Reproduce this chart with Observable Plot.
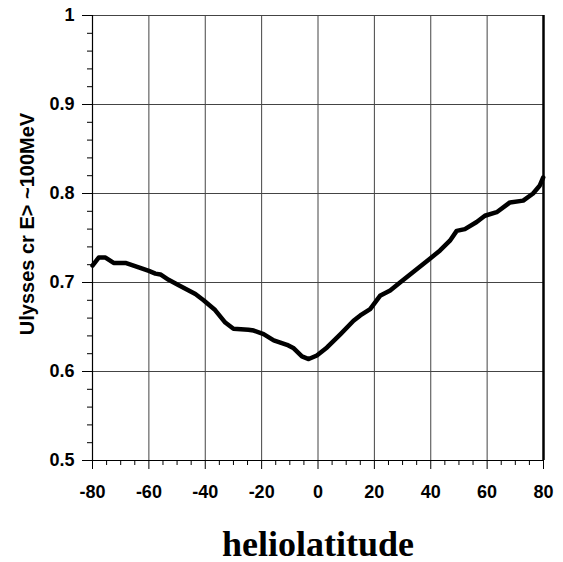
<!DOCTYPE html>
<html>
<head>
<meta charset="utf-8">
<script src="https://cdn.jsdelivr.net/npm/d3@7"></script>
<script src="https://cdn.jsdelivr.net/npm/@observablehq/plot@0.6"></script>
<style>
  html, body { margin: 0; padding: 0; background: #fff; }
  #chart svg { font-family: "Liberation Sans", Arial, sans-serif; }
</style>
</head>
<body>
<div id="chart"></div>
<script>
// Heliolatitude (deg) and Ulysses cosmic-ray rate E > ~100 MeV
const latitude = [-80, -77.8, -75.4, -72.5, -68.3, -63.6, -60, -57.7, -55.9, -53, -49.4, -43.5, -40.6, -36.5, -32.9, -30, -24.7, -22.8, -19.3, -15.7, -11, -8.6, -5.7, -3.3, -0.4, 3.2, 8, 12.6, 15, 18.5, 22, 25.6, 29.1, 39.8, 43.3, 46.8, 49.2, 52.1, 56.3, 59.2, 63.4, 68.1, 72.8, 76.3, 78.7, 79.9];
const rate = [0.719, 0.728, 0.728, 0.722, 0.722, 0.717, 0.713, 0.710, 0.709, 0.703, 0.697, 0.687, 0.680, 0.669, 0.655, 0.648, 0.647, 0.646, 0.642, 0.635, 0.630, 0.626, 0.617, 0.614, 0.618, 0.627, 0.642, 0.657, 0.663, 0.670, 0.685, 0.691, 0.700, 0.727, 0.736, 0.747, 0.758, 0.760, 0.768, 0.775, 0.779, 0.790, 0.792, 0.800, 0.809, 0.818];

const xMajor = [-80, -60, -40, -20, 0, 20, 40, 60, 80];
const xMinor = d3.range(-80, 81, 5).filter(v => v % 20 !== 0);
const yMajor = [0.5, 0.6, 0.7, 0.8, 0.9, 1];
const yMinor = d3.range(0, 26).map(i => +(0.5 + i * 0.02).toFixed(2)).filter(v => Math.round(v * 100) % 10 !== 0);

const yLabel = "Ulysses cr E> ~100MeV";
const xLabel = "heliolatitude";

const data = latitude.map((x, i) => ({x, y: rate[i]}));

const chart = Plot.plot({
  width: 563,
  height: 562,
  marginTop: 15,
  marginLeft: 92,
  marginRight: 20,
  marginBottom: 102,
  x: {domain: [-80, 80]},
  y: {domain: [0.5, 1]},
  marks: [
    Plot.ruleX(xMajor, {stroke: "#444", strokeWidth: 1}),
    Plot.ruleY(yMajor, {stroke: "#444", strokeWidth: 1}),
    Plot.axisX({ticks: xMinor, tickSize: 5, text: null, label: null, stroke: "#000", strokeOpacity: 1}),
    Plot.axisX({ticks: xMajor, tickSize: 9, tickPadding: 16, tickFormat: d => String(d), fontSize: 18, fontWeight: "bold", stroke: "#000", strokeOpacity: 1, label: null}),
    Plot.axisY({ticks: yMinor, tickSize: 5, text: null, label: null, stroke: "#000", strokeOpacity: 1}),
    Plot.axisY({ticks: yMajor, tickSize: 10, tickPadding: 8, tickFormat: d => String(+d.toFixed(1)), fontSize: 18, fontWeight: "bold", stroke: "#000", strokeOpacity: 1, label: null}),
    Plot.ruleX([-80], {stroke: "#000", strokeWidth: 1.2}),
    Plot.ruleY([0.5], {stroke: "#000", strokeWidth: 1.2}),
    Plot.ruleX([80], {stroke: "#000", strokeWidth: 2.5}),
    Plot.line(data, {x: "x", y: "y", stroke: "#000", strokeWidth: 4.5, strokeLinejoin: "round", strokeLinecap: "round"}),
    Plot.text([yLabel], {text: d => d, frameAnchor: "left", textAnchor: "middle", rotate: -90, dx: -65, dy: -14, fontSize: 20, fontWeight: "bold", fill: "#000"}),
    Plot.text([xLabel], {text: d => d, frameAnchor: "bottom", lineAnchor: "bottom", dy: 95, fontSize: 36, fontWeight: "bold", fontFamily: "'Liberation Serif', 'Times New Roman', serif", fill: "#000"})
  ]
});
document.getElementById("chart").appendChild(chart);
</script>
</body>
</html>
